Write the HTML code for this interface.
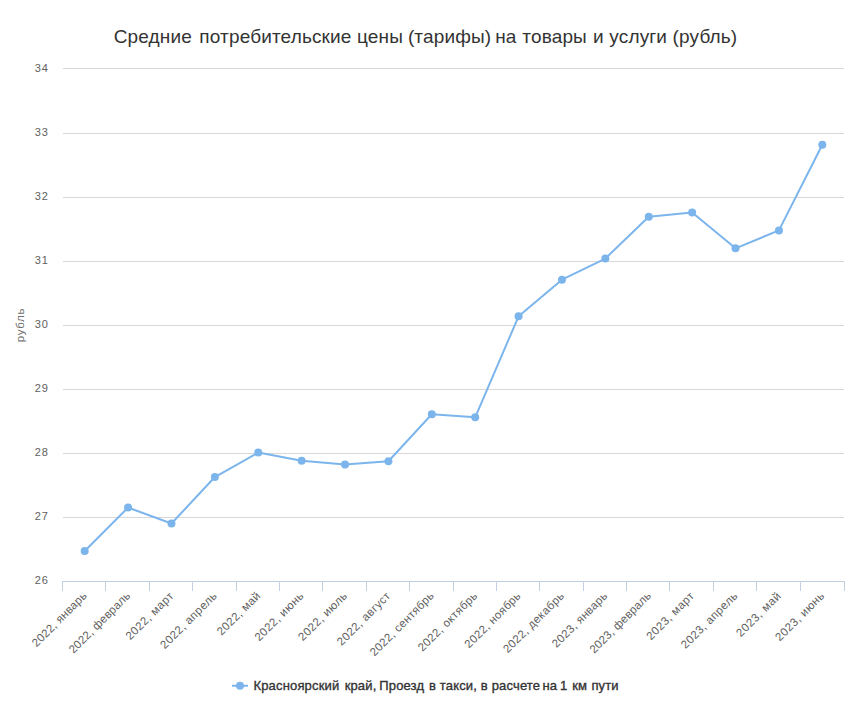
<!DOCTYPE html>
<html lang="ru"><head><meta charset="utf-8"><title>chart</title>
<style>
html,body{margin:0;padding:0;background:#fff;}
body{width:860px;height:709px;overflow:hidden;font-family:"Liberation Sans",sans-serif;}
svg{display:block;font-family:"Liberation Sans",sans-serif;}
.yl{font-size:11px;fill:#606060;text-anchor:end;}
.xl{font-size:11.5px;fill:#606060;text-anchor:end;letter-spacing:0.25px;}
</style></head><body>
<svg width="860" height="709" viewBox="0 0 860 709">
<rect x="0" y="0" width="860" height="709" fill="#ffffff"/>

<path d="M 63 68.5 L 844 68.5" stroke="#D8D8D8" stroke-width="1" fill="none"/>
<path d="M 63 133.5 L 844 133.5" stroke="#D8D8D8" stroke-width="1" fill="none"/>
<path d="M 63 197.5 L 844 197.5" stroke="#D8D8D8" stroke-width="1" fill="none"/>
<path d="M 63 261.5 L 844 261.5" stroke="#D8D8D8" stroke-width="1" fill="none"/>
<path d="M 63 325.5 L 844 325.5" stroke="#D8D8D8" stroke-width="1" fill="none"/>
<path d="M 63 389.5 L 844 389.5" stroke="#D8D8D8" stroke-width="1" fill="none"/>
<path d="M 63 453.5 L 844 453.5" stroke="#D8D8D8" stroke-width="1" fill="none"/>
<path d="M 63 517.5 L 844 517.5" stroke="#D8D8D8" stroke-width="1" fill="none"/>
<path d="M 62 581.5 L 845 581.5" stroke="#C0D0E0" stroke-width="1" fill="none"/>
<path d="M 62.5 581 L 62.5 591" stroke="#C0D0E0" stroke-width="1" fill="none"/>
<path d="M 105.5 581 L 105.5 591" stroke="#C0D0E0" stroke-width="1" fill="none"/>
<path d="M 149.5 581 L 149.5 591" stroke="#C0D0E0" stroke-width="1" fill="none"/>
<path d="M 192.5 581 L 192.5 591" stroke="#C0D0E0" stroke-width="1" fill="none"/>
<path d="M 236.5 581 L 236.5 591" stroke="#C0D0E0" stroke-width="1" fill="none"/>
<path d="M 279.5 581 L 279.5 591" stroke="#C0D0E0" stroke-width="1" fill="none"/>
<path d="M 322.5 581 L 322.5 591" stroke="#C0D0E0" stroke-width="1" fill="none"/>
<path d="M 366.5 581 L 366.5 591" stroke="#C0D0E0" stroke-width="1" fill="none"/>
<path d="M 409.5 581 L 409.5 591" stroke="#C0D0E0" stroke-width="1" fill="none"/>
<path d="M 453.5 581 L 453.5 591" stroke="#C0D0E0" stroke-width="1" fill="none"/>
<path d="M 496.5 581 L 496.5 591" stroke="#C0D0E0" stroke-width="1" fill="none"/>
<path d="M 539.5 581 L 539.5 591" stroke="#C0D0E0" stroke-width="1" fill="none"/>
<path d="M 583.5 581 L 583.5 591" stroke="#C0D0E0" stroke-width="1" fill="none"/>
<path d="M 626.5 581 L 626.5 591" stroke="#C0D0E0" stroke-width="1" fill="none"/>
<path d="M 669.5 581 L 669.5 591" stroke="#C0D0E0" stroke-width="1" fill="none"/>
<path d="M 713.5 581 L 713.5 591" stroke="#C0D0E0" stroke-width="1" fill="none"/>
<path d="M 756.5 581 L 756.5 591" stroke="#C0D0E0" stroke-width="1" fill="none"/>
<path d="M 800.5 581 L 800.5 591" stroke="#C0D0E0" stroke-width="1" fill="none"/>
<path d="M 844.5 581 L 844.5 591" stroke="#C0D0E0" stroke-width="1" fill="none"/>
<text class="yl" x="49" y="72.0" letter-spacing="1">34</text>
<text class="yl" x="49" y="136.0" letter-spacing="1">33</text>
<text class="yl" x="49" y="200.0" letter-spacing="1">32</text>
<text class="yl" x="49" y="264.0" letter-spacing="1">31</text>
<text class="yl" x="49" y="328.0" letter-spacing="1">30</text>
<text class="yl" x="49" y="392.0" letter-spacing="1">29</text>
<text class="yl" x="49" y="456.0" letter-spacing="1">28</text>
<text class="yl" x="49" y="520.0" letter-spacing="1">27</text>
<text class="yl" x="49" y="584.0" letter-spacing="1">26</text>
<text x="24" y="325" transform="rotate(-90 24 325)" text-anchor="middle" font-size="11.5" letter-spacing="0.75" fill="#707070">рубль</text>
<text x="425.5" y="43" text-anchor="middle" font-size="19" letter-spacing="0.15" fill="#333">Средние <tspan dx="2">потребительские</tspan> цены <tspan dx="-0.5">(тарифы)</tspan> <tspan dx="-1.5">на</tspan> <tspan dx="0.25">товары</tspan> <tspan dx="0.75">и</tspan> услуги (рубль)</text>
<path d="M 84.69 551.00 L 128.08 507.55 L 171.47 523.55 L 214.86 477.05 L 258.25 452.55 L 301.64 460.80 L 345.03 464.55 L 388.42 461.30 L 431.81 414.30 L 475.19 417.30 L 518.58 316.30 L 561.97 279.70 L 605.36 258.55 L 648.75 216.80 L 692.14 212.55 L 735.53 248.30 L 778.92 230.40 L 822.31 144.70" stroke="#7cb5ec" stroke-width="2" fill="none" stroke-linejoin="round" stroke-linecap="round"/>
<circle cx="84.69" cy="551.00" r="4" fill="#7cb5ec"/>
<circle cx="128.08" cy="507.55" r="4" fill="#7cb5ec"/>
<circle cx="171.47" cy="523.55" r="4" fill="#7cb5ec"/>
<circle cx="214.86" cy="477.05" r="4" fill="#7cb5ec"/>
<circle cx="258.25" cy="452.55" r="4" fill="#7cb5ec"/>
<circle cx="301.64" cy="460.80" r="4" fill="#7cb5ec"/>
<circle cx="345.03" cy="464.55" r="4" fill="#7cb5ec"/>
<circle cx="388.42" cy="461.30" r="4" fill="#7cb5ec"/>
<circle cx="431.81" cy="414.30" r="4" fill="#7cb5ec"/>
<circle cx="475.19" cy="417.30" r="4" fill="#7cb5ec"/>
<circle cx="518.58" cy="316.30" r="4" fill="#7cb5ec"/>
<circle cx="561.97" cy="279.70" r="4" fill="#7cb5ec"/>
<circle cx="605.36" cy="258.55" r="4" fill="#7cb5ec"/>
<circle cx="648.75" cy="216.80" r="4" fill="#7cb5ec"/>
<circle cx="692.14" cy="212.55" r="4" fill="#7cb5ec"/>
<circle cx="735.53" cy="248.30" r="4" fill="#7cb5ec"/>
<circle cx="778.92" cy="230.40" r="4" fill="#7cb5ec"/>
<circle cx="822.31" cy="144.70" r="4" fill="#7cb5ec"/>
<text class="xl" style="letter-spacing:0.250px" x="87.69" y="596.4" transform="rotate(-45 87.69 596.4)">2022, январь</text>
<text class="xl" style="letter-spacing:0.162px" x="131.08" y="596.4" transform="rotate(-45 131.08 596.4)">2022, февраль</text>
<text class="xl" style="letter-spacing:0.486px" x="174.47" y="596.4" transform="rotate(-45 174.47 596.4)">2022, март</text>
<text class="xl" style="letter-spacing:0.443px" x="217.86" y="596.4" transform="rotate(-45 217.86 596.4)">2022, апрель</text>
<text class="xl" style="letter-spacing:0.383px" x="261.25" y="596.4" transform="rotate(-45 261.25 596.4)">2022, май</text>
<text class="xl" style="letter-spacing:0.486px" x="304.64" y="596.4" transform="rotate(-45 304.64 596.4)">2022, июнь</text>
<text class="xl" style="letter-spacing:0.446px" x="348.03" y="596.4" transform="rotate(-45 348.03 596.4)">2022, июль</text>
<text class="xl" style="letter-spacing:0.430px" x="391.42" y="596.4" transform="rotate(-45 391.42 596.4)">2022, август</text>
<text class="xl" style="letter-spacing:0.304px" x="434.81" y="596.4" transform="rotate(-45 434.81 596.4)">2022, сентябрь</text>
<text class="xl" style="letter-spacing:0.368px" x="478.19" y="596.4" transform="rotate(-45 478.19 596.4)">2022, октябрь</text>
<text class="xl" style="letter-spacing:0.353px" x="521.58" y="596.4" transform="rotate(-45 521.58 596.4)">2022, ноябрь</text>
<text class="xl" style="letter-spacing:0.397px" x="564.97" y="596.4" transform="rotate(-45 564.97 596.4)">2022, декабрь</text>
<text class="xl" style="letter-spacing:0.346px" x="608.36" y="596.4" transform="rotate(-45 608.36 596.4)">2023, январь</text>
<text class="xl" style="letter-spacing:0.144px" x="651.75" y="596.4" transform="rotate(-45 651.75 596.4)">2023, февраль</text>
<text class="xl" style="letter-spacing:0.486px" x="695.14" y="596.4" transform="rotate(-45 695.14 596.4)">2023, март</text>
<text class="xl" style="letter-spacing:0.430px" x="738.53" y="596.4" transform="rotate(-45 738.53 596.4)">2023, апрель</text>
<text class="xl" style="letter-spacing:0.603px" x="781.92" y="596.4" transform="rotate(-45 781.92 596.4)">2023, май</text>
<text class="xl" style="letter-spacing:0.486px" x="825.31" y="596.4" transform="rotate(-45 825.31 596.4)">2023, июнь</text>
<path d="M 232 685.75 L 248 685.75" stroke="#7cb5ec" stroke-width="2" fill="none"/>
<circle cx="240" cy="685.75" r="4" fill="#7cb5ec"/>
<text x="253.5" y="690" font-size="13" fill="#333" stroke="#333" stroke-width="0.35" letter-spacing="0.16">Красноярский <tspan dx="1.5">край,</tspan> <tspan dx="-1">Проезд</tspan> <tspan dx="1">в</tspan> такси, в расчете <tspan dx="-1.5">на</tspan> <tspan dx="-1">1</tspan> <tspan dx="1">км</tspan> <tspan dx="0.5">пути</tspan></text>
</svg></body></html>
